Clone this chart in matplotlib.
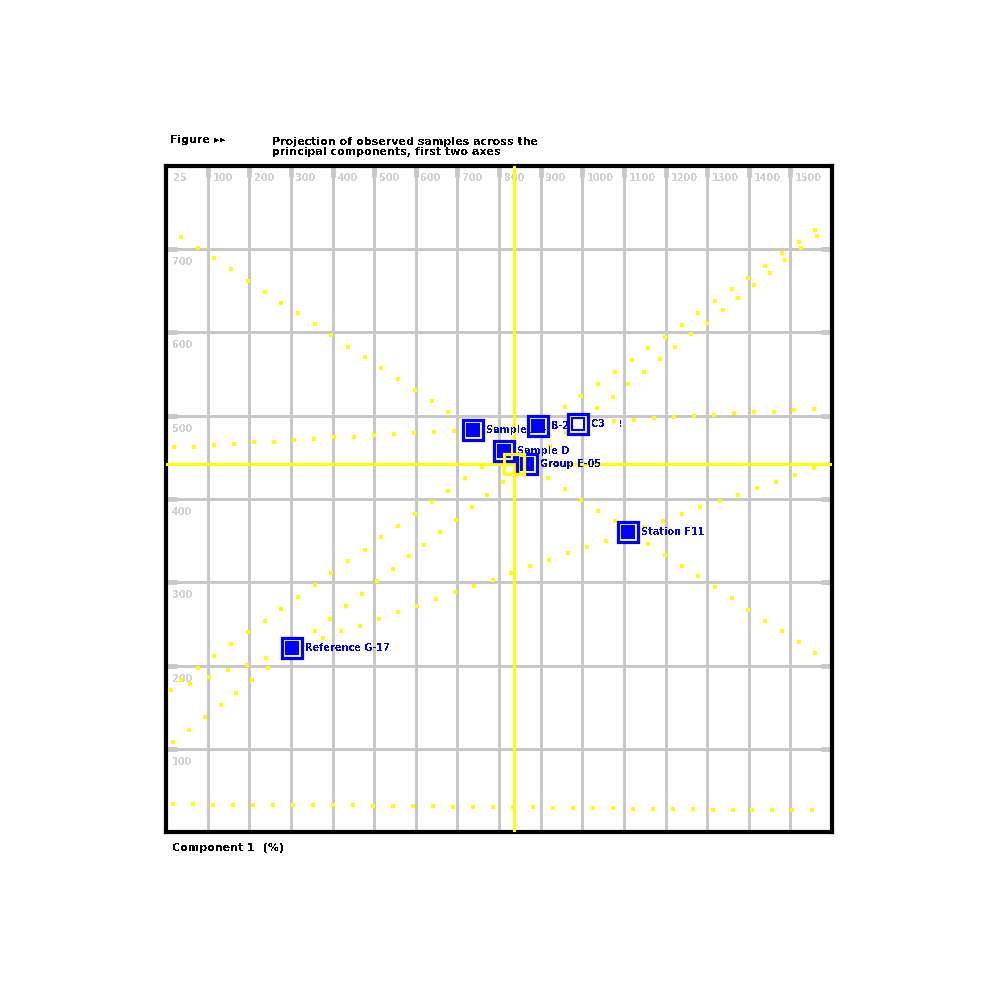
import matplotlib
matplotlib.use("Agg")
import matplotlib.pyplot as plt

plt.rcParams['text.antialiased'] = False
plt.rcParams['lines.antialiased'] = False
plt.rcParams['font.family'] = ['DejaVu Sans']

# --- data ---
x_ticks = [0, 1, 2, 3, 4, 5, 6, 7, 8, 9, 10, 11, 12, 13, 14, 15]
x_tick_labels = ['25', '100', '200', '300', '400', '500', '600', '700',
                 '800', '900', '1000', '1100', '1200', '1300', '1400', '1500']
y_ticks = [7, 6, 5, 4, 3, 2, 1]
y_tick_labels = ['700', '600', '500', '400', '300', '200', '100']

s1_x = [0.36, 0.76, 1.16, 1.56, 1.96, 2.37, 2.77, 3.17, 3.57, 3.97, 4.37, 4.77, 5.17,
        5.57, 5.97, 6.38, 6.78, 7.18, 7.58, 7.98, 8.38, 8.78, 9.18, 9.58, 9.98, 10.39,
        10.79, 11.19, 11.59, 11.99, 12.39, 12.79, 13.19, 13.59, 13.99, 14.40, 14.80,
        15.20, 15.60]
s1_y = [7.15, 7.02, 6.89, 6.76, 6.62, 6.49, 6.36, 6.23, 6.10, 5.97, 5.83, 5.70, 5.57,
        5.44, 5.31, 5.18, 5.04, 4.91, 4.78, 4.65, 4.52, 4.39, 4.25, 4.12, 3.99, 3.86,
        3.73, 3.60, 3.46, 3.33, 3.20, 3.07, 2.94, 2.81, 2.67, 2.54, 2.41, 2.28, 2.15]

b1_x = s1_x
b1_y = [1.83, 1.97, 2.11, 2.26, 2.40, 2.54, 2.68, 2.82, 2.97, 3.11, 3.25, 3.39, 3.54,
        3.68, 3.82, 3.96, 4.10, 4.25, 4.39, 4.53, 4.67, 4.81, 4.96, 5.10, 5.24, 5.38,
        5.52, 5.67, 5.81, 5.95, 6.09, 6.24, 6.38, 6.52, 6.66, 6.80, 6.95, 7.09, 7.23]

b2_x = [0.18, 0.55, 0.93, 1.31, 1.68, 2.06, 2.44, 2.81, 3.19, 3.57, 3.95, 4.32, 4.70,
        5.08, 5.45, 5.83, 6.21, 6.58, 6.96, 7.34, 7.72, 8.09, 8.47, 8.85, 9.22, 9.60,
        9.98, 10.35, 10.73, 11.11, 11.48, 11.86, 12.24, 12.62, 12.99, 13.37, 13.75,
        14.12, 14.50, 14.88, 15.25, 15.63]
b2_y = [1.08, 1.23, 1.38, 1.53, 1.67, 1.82, 1.97, 2.12, 2.27, 2.42, 2.56, 2.71, 2.86,
        3.01, 3.16, 3.31, 3.45, 3.60, 3.75, 3.90, 4.05, 4.20, 4.34, 4.49, 4.64, 4.79,
        4.94, 5.09, 5.23, 5.38, 5.53, 5.68, 5.83, 5.98, 6.12, 6.27, 6.42, 6.57, 6.72,
        6.87, 7.02, 7.16]

d_x = [0.13, 0.58, 1.03, 1.49, 1.94, 2.40, 2.85, 3.30, 3.76, 4.21, 4.67, 5.12, 5.58,
       6.03, 6.48, 6.94, 7.39, 7.85, 8.30, 8.75, 9.21, 9.66, 10.12, 10.57, 11.02, 11.48,
       11.93, 12.39, 12.84, 13.30, 13.75, 14.20, 14.66, 15.11, 15.57]
d_y = [1.70, 1.78, 1.86, 1.94, 2.01, 2.09, 2.17, 2.25, 2.33, 2.41, 2.48, 2.56, 2.64,
       2.72, 2.80, 2.88, 2.95, 3.03, 3.11, 3.19, 3.27, 3.35, 3.42, 3.50, 3.58, 3.66,
       3.74, 3.82, 3.90, 3.97, 4.05, 4.13, 4.21, 4.29, 4.37]

e_x = [0.20, 0.68, 1.16, 1.64, 2.12, 2.60, 3.08, 3.56, 4.04, 4.52, 5.00, 5.48, 5.96,
       6.44, 6.92, 7.40, 7.88, 8.36, 8.84, 9.32, 9.80, 10.28, 10.76, 11.24, 11.72,
       12.20, 12.68, 13.16, 13.64, 14.12, 14.60, 15.08, 15.56]
e_y = [4.62, 4.63, 4.65, 4.66, 4.68, 4.69, 4.71, 4.72, 4.74, 4.75, 4.77, 4.78, 4.79,
       4.81, 4.82, 4.84, 4.85, 4.87, 4.88, 4.90, 4.91, 4.92, 4.94, 4.95, 4.97, 4.98,
       5.00, 5.01, 5.03, 5.04, 5.05, 5.07, 5.08]

f_x = [0.17, 0.65, 1.13, 1.61, 2.09, 2.57, 3.05, 3.53, 4.01, 4.49, 4.97, 5.45, 5.93,
       6.41, 6.89, 7.37, 7.85, 8.33, 8.81, 9.29, 9.77, 10.25, 10.73, 11.21, 11.69,
       12.17, 12.65, 13.13, 13.61, 14.09, 14.57, 15.05, 15.53]
f_y = [0.34, 0.34, 0.33, 0.33, 0.33, 0.33, 0.32, 0.32, 0.32, 0.32, 0.31, 0.31, 0.31,
       0.31, 0.30, 0.30, 0.30, 0.30, 0.30, 0.29, 0.29, 0.29, 0.29, 0.28, 0.28, 0.28,
       0.28, 0.27, 0.27, 0.27, 0.27, 0.26, 0.26]

dot_series = [(s1_x, s1_y), (b1_x, b1_y), (b2_x, b2_y), (d_x, d_y), (e_x, e_y), (f_x, f_y)]

point_x = [7.38, 8.94, 9.90, 8.12, 8.67, 11.10, 3.03]
point_y = [4.83, 4.88, 4.90, 4.58, 4.42, 3.60, 2.21]
point_labels = ['Sample A \u2013', 'B-2', 'C3    \u205d', 'Sample D', 'Group E-05', 'Station F11',
                'Reference G-17']
point_filled = [True, True, False, True, True, True, True]

selected_x = 8.36
selected_y = 4.42

title_lead = 'Figure \u25b8\u25b8'
title_text = 'Projection of observed samples across the\nprincipal components, first two axes'
x_label = 'Component 1  (%)'

YELLOW = '#ffff00'
BLUE = '#0000ff'
GRID = '#c8c8c8'

fig = plt.figure(figsize=(10, 10), dpi=100)
ax = fig.add_axes([0.166, 0.168, 0.666, 0.666])
ax.set_xlim(0, 16)
ax.set_ylim(0, 8)

ax.set_xticks(range(1, 16))
ax.set_yticks(range(1, 8))
ax.grid(True, color=GRID, linewidth=1.8)
ax.set_axisbelow(True)
ax.tick_params(direction='in', length=8, width=3.5, color=GRID,
               top=True, right=True, bottom=False, left=True,
               labelbottom=False, labelleft=False)
for sp in ax.spines.values():
    sp.set_linewidth(3)
    sp.set_color('black')

# tick labels drawn inside the plot area
for xv, lab in zip(x_ticks, x_tick_labels):
    ax.annotate(lab, (xv, 8), xytext=(7 if xv == 0 else 5, -7), textcoords='offset pixels',
                ha='left', va='top', fontsize=7, color='#d0d0d0', fontweight='bold')
for yv, lab in zip(y_ticks, y_tick_labels):
    ax.annotate(lab, (0, yv), xytext=(6, -8), textcoords='offset pixels',
                ha='left', va='top', fontsize=7, color='#d0d0d0', fontweight='bold')

# dotted series
for xs, ys in dot_series:
    ax.plot(xs, ys, linestyle='none', marker='s', markersize=2.6, color=YELLOW,
            markeredgewidth=0, zorder=3)

# crosshair
ax.axvline(selected_x, color=YELLOW, linewidth=1.8, zorder=4)
ax.axhline(selected_y, color=YELLOW, linewidth=1.8, zorder=4)

# labelled points
for px, py, lab, filled in zip(point_x, point_y, point_labels, point_filled):
    ax.plot(px, py, marker='s', markersize=14, markerfacecolor='white',
            markeredgecolor=BLUE, markeredgewidth=2.3, linestyle='none', zorder=5)
    ax.plot(px, py, marker='s', markersize=8.5,
            markerfacecolor=BLUE if filled else 'white',
            markeredgecolor=BLUE, markeredgewidth=1.5, linestyle='none', zorder=6)
    ax.annotate(lab, (px, py), xytext=(13, 0), textcoords='offset pixels',
                ha='left', va='center', fontsize=7, color=BLUE, fontweight='bold', zorder=6)

ax.plot(selected_x, selected_y, marker='s', markersize=15, markerfacecolor='none',
        markeredgecolor=YELLOW, markeredgewidth=2.3, linestyle='none', zorder=7)

fig.text(0.170, 0.860, title_lead, ha='left', va='center', fontsize=8, fontweight='bold')
fig.text(0.272, 0.853, title_text, ha='left', va='center', fontsize=8, fontweight='bold',
         linespacing=1.0)
fig.text(0.172, 0.152, x_label, ha='left', va='center', fontsize=8, fontweight='bold')

fig.savefig('out.png', dpi=100)
